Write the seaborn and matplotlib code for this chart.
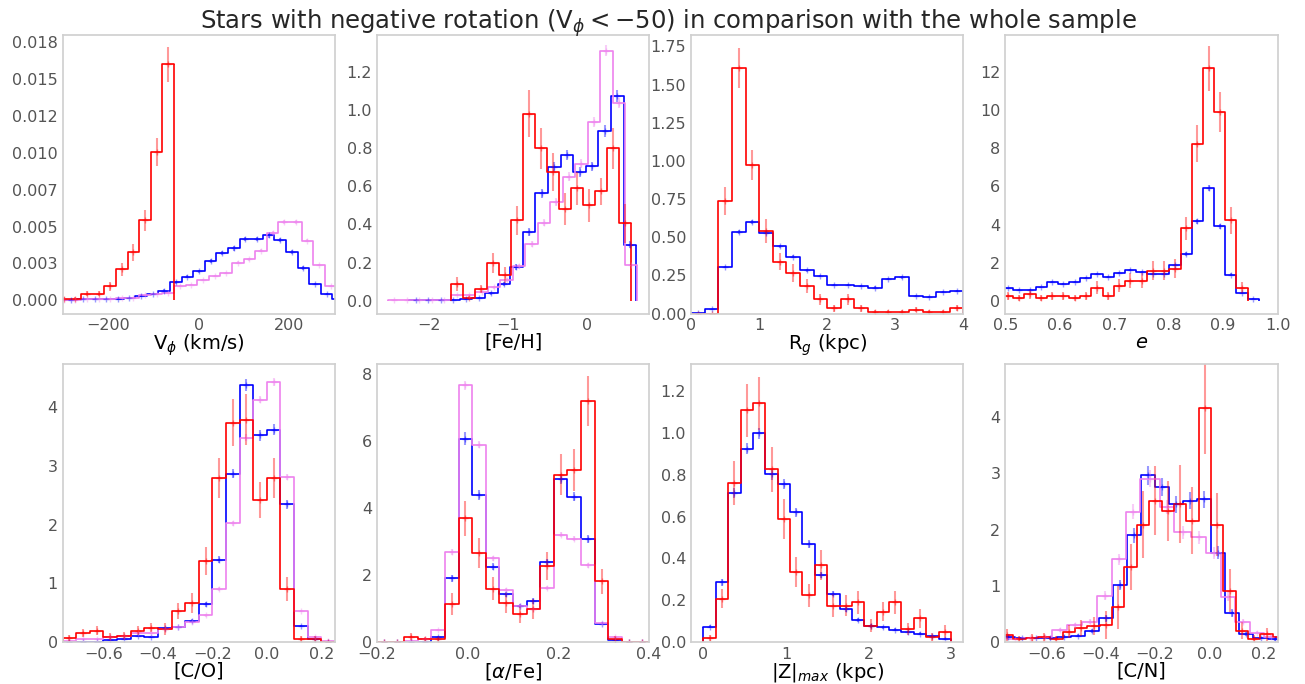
import numpy as np
import pandas as pd
import matplotlib
matplotlib.use("Agg")
import matplotlib.pyplot as plt
import seaborn as sns

# style close to the original notebook figure
sns.set_theme(style="whitegrid")
plt.rcParams["font.family"] = ["DejaVu Sans"]
plt.rcParams["axes.grid"] = False
plt.rcParams["axes.edgecolor"] = "#d0d0d0"

RED, BLUE, VIOLET = "red", "blue", "violet"

# ---- V_phi ----
vphi_red_edges = [-310.0, -284.5, -258.9, -233.4, -207.8, -182.3, -156.7, -131.2, -105.6, -80.0, -54.5]
vphi_red = [0.0001, 0.0001, 0.00045, 0.00045, 0.00095, 0.00209, 0.00324, 0.00542, 0.01004, 0.0160]
vphi_red_err = [0.0001, 0.0001, 0.00015, 0.00015, 0.0003, 0.00043, 0.00055, 0.0007, 0.00095, 0.0012]
vphi_blue_edges = [-318.9, -293.4, -267.8, -242.3, -216.7, -191.2, -165.6, -140.1, -114.5, -89.0, -63.4,
                   -37.9, -12.3, 13.2, 38.8, 64.3, 89.9, 115.4, 141.0, 166.5, 192.1, 217.6, 243.2,
                   268.7, 294.3, 319.8]
vphi_blue = [0.00003, 0.00004, 0.00005, 0.00006, 0.00008, 0.0001, 0.00014, 0.00027, 0.0004, 0.00066,
             0.00122, 0.00159, 0.00195, 0.00267, 0.00322, 0.00351, 0.00415, 0.00415, 0.0044, 0.00408,
             0.00329, 0.00218, 0.00111, 0.00043, 0.0001]
vphi_blue_err = [0.00002, 0.00002, 0.00003, 0.00003, 0.00003, 0.00004, 0.00004, 0.00005, 0.00006, 0.00007,
                 0.00009, 0.0001, 0.00011, 0.00012, 0.00013, 0.00014, 0.00015, 0.00015, 0.00016, 0.00015,
                 0.00014, 0.00012, 0.00009, 0.00005, 0.00003]
vphi_violet_edges = [-310.0, -284.5, -258.9, -233.4, -207.8, -182.3, -156.7, -131.2, -105.6, -80.0, -54.5,
                     -29.0, -3.4, 22.2, 47.7, 73.3, 98.8, 124.4, 149.9, 175.5, 201.0, 226.6, 252.1,
                     277.7, 303.2]
vphi_violet = [0.00002, 0.00003, 0.00005, 0.00007, 0.0001, 0.00014, 0.00018, 0.00034, 0.0004, 0.0005,
               0.00095, 0.00106, 0.00136, 0.00165, 0.00186, 0.00254, 0.00277, 0.00336, 0.00456, 0.00533,
               0.00533, 0.00404, 0.00238, 0.00097]
vphi_violet_err = [0.00001, 0.00001, 0.00002, 0.00002, 0.00002, 0.00003, 0.00003, 0.00004, 0.00004, 0.00005,
                   0.00006, 0.00006, 0.00007, 0.00008, 0.00008, 0.00009, 0.0001, 0.0001, 0.00012, 0.00013,
                   0.00013, 0.00011, 0.00009, 0.00006]

# ---- [Fe/H] ----
feh_red_edges = [-1.717, -1.565, -1.413, -1.261, -1.109, -0.957, -0.805, -0.653, -0.501, -0.349,
                 -0.197, -0.045, 0.107, 0.259, 0.411, 0.563]
feh_red = [0.088, 0.014, 0.062, 0.197, 0.135, 0.422, 0.980, 0.80, 0.677, 0.482, 0.589, 0.50, 0.574, 0.80, 0.405]
feh_red_err = [0.035, 0.01, 0.02, 0.053, 0.04, 0.075, 0.123, 0.108, 0.1, 0.084, 0.088, 0.085, 0.07, 0.107, 0.1]
feh_blue_edges = [-2.248, -2.088, -1.929, -1.769, -1.609, -1.450, -1.290, -1.130, -0.971, -0.811,
                  -0.652, -0.492, -0.333, -0.173, -0.014, 0.146, 0.306, 0.466, 0.626]
feh_blue = [0.002, 0.004, 0.004, 0.006, 0.01, 0.014, 0.04, 0.088, 0.176, 0.361, 0.563, 0.699, 0.765,
            0.677, 0.704, 0.889, 1.073, 0.294]
feh_blue_err = [0.001, 0.002, 0.002, 0.003, 0.004, 0.005, 0.008, 0.012, 0.015, 0.02, 0.024, 0.026, 0.027,
                0.026, 0.026, 0.03, 0.033, 0.018]
feh_violet_edges = [-2.513, -2.355, -2.198, -2.040, -1.883, -1.725, -1.567, -1.410, -1.252, -1.095,
                    -0.937, -0.780, -0.622, -0.464, -0.307, -0.149, 0.009, 0.166, 0.324, 0.481, 0.639]
feh_violet = [0.002, 0.002, 0.003, 0.003, 0.004, 0.03, 0.03, 0.045, 0.07, 0.11, 0.18, 0.299, 0.408,
              0.519, 0.651, 0.718, 0.936, 1.311, 1.035, 0.185]
feh_violet_err = [0.001, 0.001, 0.002, 0.002, 0.002, 0.005, 0.005, 0.006, 0.008, 0.01, 0.012, 0.015,
                  0.018, 0.02, 0.022, 0.023, 0.026, 0.03, 0.027, 0.012]

# ---- R_g ----
rg_edges = [0.0, 0.2, 0.4, 0.6, 0.8, 1.0, 1.2, 1.4, 1.6, 1.8, 2.0, 2.2, 2.4, 2.6, 2.8, 3.0, 3.2, 3.4,
            3.6, 3.8, 4.0]
rg_red = [0.0, 0.0, 0.738, 1.606, 0.972, 0.542, 0.339, 0.264, 0.181, 0.094, 0.033, 0.094, 0.033, 0.011,
          0.011, 0.011, 0.024, 0.011, 0.011, 0.037]
rg_red_err = [0.0, 0.0, 0.09, 0.131, 0.1, 0.077, 0.057, 0.058, 0.045, 0.035, 0.02, 0.035, 0.02, 0.012,
              0.012, 0.012, 0.017, 0.012, 0.012, 0.02]
rg_blue = [0.004, 0.028, 0.306, 0.535, 0.599, 0.529, 0.441, 0.371, 0.282, 0.247, 0.184, 0.184, 0.179,
           0.170, 0.225, 0.236, 0.116, 0.109, 0.142, 0.149]
rg_blue_err = [0.002, 0.004, 0.008, 0.011, 0.012, 0.011, 0.01, 0.01, 0.008, 0.008, 0.007, 0.007, 0.007,
               0.007, 0.008, 0.008, 0.006, 0.006, 0.006, 0.007]

# ---- eccentricity ----
ecc_red_edges = [0.494, 0.5145, 0.535, 0.5555, 0.576, 0.5965, 0.617, 0.6375, 0.658, 0.6785, 0.699,
                 0.7195, 0.74, 0.7605, 0.781, 0.8015, 0.822, 0.8425, 0.863, 0.8835, 0.904, 0.9245, 0.945]
ecc_red = [0.26, 0.16, 0.33, 0.16, 0.26, 0.26, 0.16, 0.26, 0.69, 0.26, 0.79, 1.06, 1.06, 1.58, 1.58,
           1.69, 3.8, 8.25, 12.2, 9.89, 4.22, 0.69]
ecc_red_err = [0.2, 0.15, 0.22, 0.15, 0.2, 0.2, 0.15, 0.2, 0.33, 0.2, 0.35, 0.4, 0.4, 0.5, 0.5, 0.5,
               0.62, 0.97, 1.18, 1.06, 0.7, 0.3]
ecc_blue_edges = [0.494, 0.5145, 0.535, 0.5555, 0.576, 0.5965, 0.617, 0.6375, 0.658, 0.6785, 0.699,
                  0.7195, 0.74, 0.7605, 0.781, 0.8015, 0.822, 0.8425, 0.863, 0.8835, 0.904, 0.9245,
                  0.945, 0.9655]
ecc_blue = [0.65, 0.56, 0.56, 0.7, 0.97, 0.88, 1.0, 1.21, 1.39, 1.23, 1.44, 1.62, 1.51, 1.41, 1.41,
            1.87, 2.46, 4.17, 5.91, 3.91, 1.37, 0.4, 0.1]
ecc_blue_err = [0.04, 0.04, 0.04, 0.04, 0.05, 0.05, 0.05, 0.06, 0.06, 0.06, 0.06, 0.07, 0.07, 0.06,
                0.06, 0.07, 0.09, 0.12, 0.15, 0.12, 0.07, 0.04, 0.02]

# ---- [C/O] ----
co_edges = [-0.75, -0.70, -0.65, -0.60, -0.55, -0.50, -0.45, -0.40, -0.35, -0.30, -0.25, -0.20, -0.15,
            -0.10, -0.05, 0.0, 0.05, 0.10, 0.15, 0.20, 0.25]
co_red = [0.068, 0.153, 0.198, 0.096, 0.113, 0.198, 0.249, 0.22, 0.532, 0.673, 1.375, 2.795, 3.734,
          3.785, 2.416, 2.795, 0.905, 0.062, 0.057, 0.01]
co_red_err = [0.05, 0.07, 0.08, 0.06, 0.06, 0.08, 0.08, 0.1, 0.14, 0.17, 0.24, 0.34, 0.4, 0.44, 0.31,
              0.345, 0.2, 0.05, 0.05, 0.02]
co_blue = [0.01, 0.01, 0.01, 0.04, 0.062, 0.107, 0.096, 0.238, 0.26, 0.368, 0.645, 1.403, 2.868, 4.368,
           3.519, 3.615, 2.348, 0.277, 0.05, 0.01]
co_blue_err = [0.005, 0.005, 0.005, 0.01, 0.012, 0.016, 0.015, 0.025, 0.025, 0.03, 0.04, 0.06, 0.08, 0.1,
               0.09, 0.09, 0.075, 0.025, 0.01, 0.005]
co_violet = [0.02, 0.05, 0.05, 0.096, 0.1, 0.153, 0.153, 0.22, 0.255, 0.34, 0.458, 0.905, 2.02, 3.48,
             4.125, 4.424, 2.812, 0.532, 0.096, 0.03]
co_violet_err = [0.005, 0.008, 0.008, 0.01, 0.01, 0.012, 0.012, 0.015, 0.016, 0.018, 0.02, 0.03, 0.04,
                 0.06, 0.06, 0.065, 0.05, 0.02, 0.01, 0.005]

# ---- [alpha/Fe] ----
afe_edges = [-0.20, -0.17, -0.14, -0.11, -0.08, -0.05, -0.02, 0.01, 0.04, 0.07, 0.10, 0.13, 0.16, 0.19,
             0.22, 0.25, 0.28, 0.31, 0.34, 0.37, 0.40]
afe_red = [0.0, 0.02, 0.17, 0.09, 0.09, 1.14, 3.70, 2.65, 1.60, 1.16, 0.83, 1.00, 2.28, 4.99, 5.14,
           7.19, 1.82, 0.11, 0.0, 0.0]
afe_red_err = [0.0, 0.02, 0.1, 0.07, 0.07, 0.32, 0.52, 0.45, 0.35, 0.3, 0.25, 0.3, 0.42, 0.61, 0.62,
               0.74, 0.37, 0.08, 0.0, 0.0]
afe_blue = [0.0, 0.01, 0.01, 0.02, 0.15, 1.90, 6.07, 4.39, 2.25, 1.43, 1.08, 1.23, 2.39, 4.86, 4.34,
            3.09, 0.55, 0.07, 0.01, 0.0]
afe_blue_err = [0.0, 0.005, 0.005, 0.01, 0.03, 0.1, 0.18, 0.15, 0.1, 0.08, 0.07, 0.08, 0.1, 0.15, 0.14,
                0.12, 0.05, 0.02, 0.005, 0.0]
afe_violet = [0.0, 0.01, 0.04, 0.1, 0.37, 2.69, 7.65, 5.89, 2.50, 1.56, 1.08, 1.0, 1.62, 3.21, 3.09,
              2.29, 0.56, 0.17, 0.01, 0.0]
afe_violet_err = [0.0, 0.005, 0.01, 0.02, 0.04, 0.08, 0.13, 0.11, 0.07, 0.06, 0.05, 0.05, 0.06, 0.08,
                  0.08, 0.07, 0.04, 0.02, 0.005, 0.0]

# ---- |Z|max ----
zmax_edges = [0.0, 0.15, 0.3, 0.45, 0.6, 0.75, 0.9, 1.05, 1.2, 1.35, 1.5, 1.65, 1.8, 1.95, 2.1, 2.25,
              2.4, 2.55, 2.7, 2.85, 3.0]
zmax_red = [0.019, 0.208, 0.762, 1.108, 1.14, 0.825, 0.587, 0.335, 0.224, 0.367, 0.175, 0.175, 0.191,
            0.079, 0.146, 0.191, 0.064, 0.114, 0.024, 0.051]
zmax_red_err = [0.015, 0.044, 0.105, 0.127, 0.127, 0.107, 0.095, 0.07, 0.056, 0.072, 0.055, 0.05, 0.055,
                0.03, 0.045, 0.055, 0.03, 0.044, 0.02, 0.03]
zmax_blue = [0.075, 0.286, 0.714, 0.924, 0.997, 0.801, 0.755, 0.62, 0.469, 0.321, 0.232, 0.157, 0.107,
             0.078, 0.072, 0.059, 0.049, 0.041, 0.029, 0.017]
zmax_blue_err = [0.008, 0.015, 0.024, 0.027, 0.028, 0.025, 0.024, 0.022, 0.019, 0.016, 0.013, 0.011,
                 0.009, 0.008, 0.008, 0.007, 0.006, 0.006, 0.005, 0.004]

# ---- [C/N] ----
cn_red_edges = [-0.7663, -0.7209, -0.6755, -0.6301, -0.5847, -0.5393, -0.4939, -0.4485, -0.4031, -0.3577,
                -0.3123, -0.2669, -0.2215, -0.1761, -0.1307, -0.0853, -0.0399, 0.0055, 0.0509, 0.0963,
                0.1417, 0.1871, 0.2325, 0.2779]
cn_red = [0.13, 0.06, 0.07, 0.09, 0.06, 0.19, 0.25, 0.29, 0.307, 0.62, 1.33, 2.09, 2.51, 2.33, 2.46,
          2.16, 4.15, 2.09, 0.916, 0.207, 0.053, 0.142, 0.10]
cn_red_err = [0.1, 0.06, 0.07, 0.08, 0.06, 0.12, 0.14, 0.16, 0.24, 0.38, 0.41, 0.59, 0.61, 0.53, 0.69,
              0.59, 0.8, 0.56, 0.38, 0.15, 0.07, 0.12, 0.1]
cn_blue_edges = [-0.7673, -0.7157, -0.6641, -0.6125, -0.5609, -0.5093, -0.4577, -0.4061, -0.3545, -0.3029,
                 -0.2513, -0.1997, -0.1481, -0.0965, -0.0449, 0.0067, 0.0583, 0.1099, 0.1615, 0.2131, 0.2647]
cn_blue = [0.09, 0.07, 0.07, 0.07, 0.1, 0.12, 0.2, 0.425, 1.016, 1.90, 2.966, 2.76, 2.45, 2.51, 2.535,
           1.59, 0.514, 0.148, 0.07, 0.05]
cn_blue_err = [0.02, 0.02, 0.02, 0.02, 0.03, 0.03, 0.04, 0.06, 0.09, 0.13, 0.17, 0.16, 0.15, 0.15, 0.15,
               0.12, 0.07, 0.04, 0.02, 0.02]
cn_violet_edges = [-0.79, -0.7427, -0.6877, -0.6326, -0.5776, -0.5226, -0.4676, -0.4126, -0.3576, -0.3050,
                   -0.2537, -0.1828, -0.1290, -0.0679, -0.0116, 0.0422, 0.0947, 0.1498, 0.1987, 0.25]
cn_violet = [0.08, 0.06, 0.07, 0.1, 0.22, 0.3, 0.366, 0.83, 1.47, 2.32, 2.9, 2.40, 1.95, 1.86, 1.58,
             0.81, 0.366, 0.17, 0.1]
cn_violet_err = [0.02, 0.02, 0.02, 0.03, 0.04, 0.05, 0.05, 0.08, 0.1, 0.13, 0.15, 0.13, 0.12, 0.12, 0.11,
                 0.08, 0.05, 0.03, 0.03]


def draw_hist(ax, edges, heights, errs, color):
    centers = [0.5 * (lo + hi) for lo, hi in zip(edges[:-1], edges[1:])]
    df = pd.DataFrame({"center": centers, "height": heights})
    sns.histplot(data=df, x="center", weights="height", bins=list(edges), element="step", fill=False,
                 color=color, linewidth=1.2, ax=ax)
    # close the outline down to zero at both ends, like a step histogram
    ax.vlines([edges[0], edges[-1]], 0, [heights[0], heights[-1]], color=color, lw=1.2)
    ax.errorbar(centers, heights, yerr=errs, fmt="+", color=color, alpha=0.4,
                ms=5, elinewidth=1.5)


fig, axes = plt.subplots(2, 4, figsize=(13.05, 6.84), dpi=100)
fig.subplots_adjust(left=0.048, right=0.979, top=0.949, bottom=0.061, wspace=0.154, hspace=0.18)
ax = axes.ravel()

draw_hist(ax[0], vphi_blue_edges, vphi_blue, vphi_blue_err, BLUE)
draw_hist(ax[0], vphi_violet_edges, vphi_violet, vphi_violet_err, VIOLET)
draw_hist(ax[0], vphi_red_edges, vphi_red, vphi_red_err, RED)

draw_hist(ax[1], feh_blue_edges, feh_blue, feh_blue_err, BLUE)
draw_hist(ax[1], feh_violet_edges, feh_violet, feh_violet_err, VIOLET)
draw_hist(ax[1], feh_red_edges, feh_red, feh_red_err, RED)

draw_hist(ax[2], rg_edges, rg_blue, rg_blue_err, BLUE)
draw_hist(ax[2], rg_edges, rg_red, rg_red_err, RED)

draw_hist(ax[3], ecc_blue_edges, ecc_blue, ecc_blue_err, BLUE)
draw_hist(ax[3], ecc_red_edges, ecc_red, ecc_red_err, RED)

draw_hist(ax[4], co_edges, co_blue, co_blue_err, BLUE)
draw_hist(ax[4], co_edges, co_violet, co_violet_err, VIOLET)
draw_hist(ax[4], co_edges, co_red, co_red_err, RED)

draw_hist(ax[5], afe_edges, afe_blue, afe_blue_err, BLUE)
draw_hist(ax[5], afe_edges, afe_violet, afe_violet_err, VIOLET)
draw_hist(ax[5], afe_edges, afe_red, afe_red_err, RED)

draw_hist(ax[6], zmax_edges, zmax_blue, zmax_blue_err, BLUE)
draw_hist(ax[6], zmax_edges, zmax_red, zmax_red_err, RED)

draw_hist(ax[7], cn_blue_edges, cn_blue, cn_blue_err, BLUE)
draw_hist(ax[7], cn_violet_edges, cn_violet, cn_violet_err, VIOLET)
draw_hist(ax[7], cn_red_edges, cn_red, cn_red_err, RED)

xlabels = [r"V$_\phi$ (km/s)", "[Fe/H]", r"R$_g$ (kpc)", r"$e$",
           "[C/O]", r"[$\alpha$/Fe]", r"|Z|$_{max}$ (kpc)", "[C/N]"]
xlims = [(-300, 300), (-2.657, 0.787), (0, 4), (0.5, 1.0),
         (-0.75, 0.25), (-0.2, 0.4), (-0.15, 3.15), (-0.75, 0.25)]
ylims = [(-0.0009, 0.0180), (-0.067, 1.394), (0, 1.826), (-0.67, 13.95),
         (0, 4.735), (0, 8.3), (0, 1.33), (0, 4.945)]

for a, lab, xl, yl in zip(ax, xlabels, xlims, ylims):
    a.set_xlim(xl)
    a.set_ylim(yl)
    a.set_xlabel(lab, fontsize=14, color="black", labelpad=-0.5)
    a.set_ylabel("")
    a.tick_params(labelsize=11.5, labelcolor="0.33", length=0, pad=3.5)
    a.grid(False)

ax[0].set_xticks([-200, 0, 200])
ax[0].set_yticks([0, 0.0025, 0.005, 0.0075, 0.01, 0.0125, 0.015, 0.0175])
ax[0].set_yticklabels(["0.000", "0.003", "0.005", "0.007", "0.010", "0.012", "0.015", "0.018"])
ax[2].set_yticks([0, 0.25, 0.5, 0.75, 1.0, 1.25, 1.5, 1.75])
ax[2].set_yticklabels(["0.00", "0.25", "0.50", "0.75", "1.00", "1.25", "1.50", "1.75"])
ax[3].set_yticks([0, 2, 4, 6, 8, 10, 12])

fig.suptitle(r"Stars with negative rotation (V$_\phi < -50$) in comparison with the whole sample",
             fontsize=17.5, x=0.512, y=0.99)

fig.savefig("out.png", dpi=100)
